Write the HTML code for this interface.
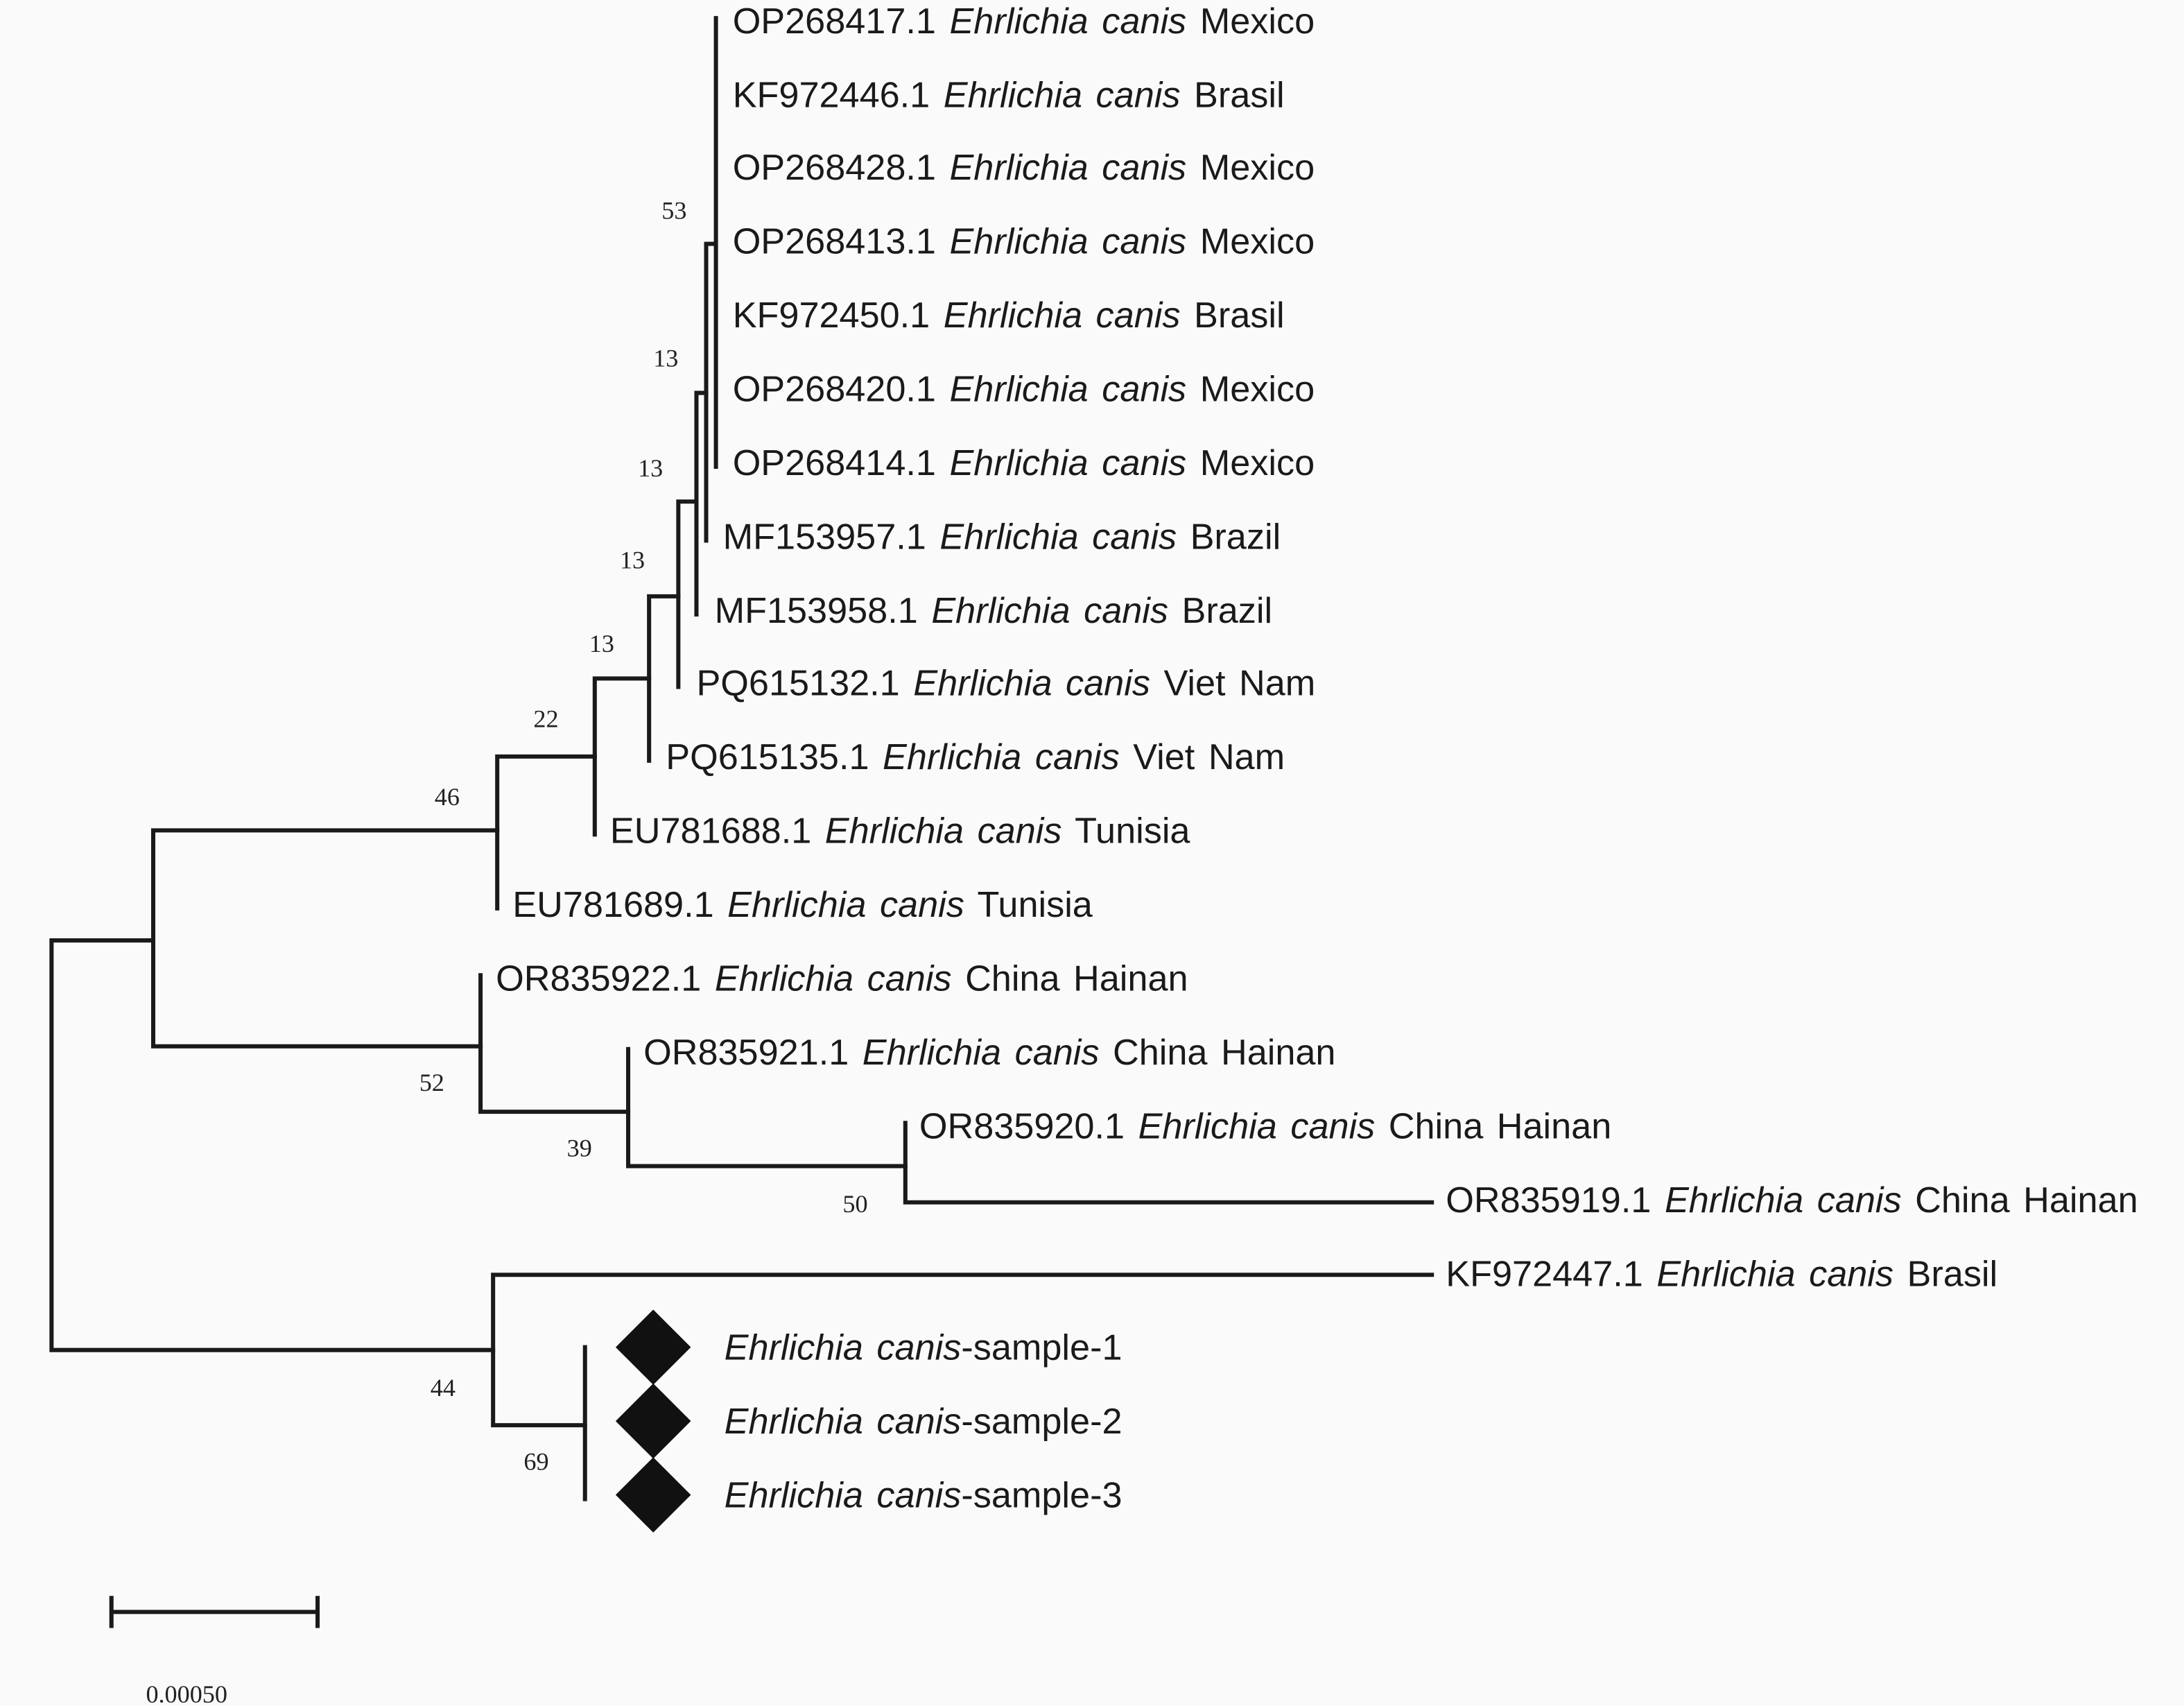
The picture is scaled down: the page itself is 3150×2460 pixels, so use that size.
<!DOCTYPE html>
<html><head><meta charset="utf-8"><style>
html,body{margin:0;padding:0;background:#fafafa;}
svg{display:block}
.t{font-family:"Liberation Sans",sans-serif;font-size:26px;fill:#1a1a1a;word-spacing:2.5px}
.b{font-family:"Liberation Serif",serif;font-size:18px;fill:#222;text-anchor:middle}
</style></head><body>
<svg width="3150" height="2460" viewBox="0 0 1568 1224.5" xmlns="http://www.w3.org/2000/svg">
<rect width="1568" height="1225" fill="#fafafa"/>
<g stroke="#1a1a1a" stroke-width="3" fill="none" stroke-linecap="square">
<path d="M37 675V969M37 675H110M37 969H354"/>
<path d="M110 596V751M110 596H357M110 751H345"/>
<path d="M357 543V652M357 543H427"/>
<path d="M427 487V599M427 487H466"/>
<path d="M466 428V546M466 428H487"/>
<path d="M487 360V493M487 360H500"/>
<path d="M500 282V441M500 282H507"/>
<path d="M507 175V388M507 175H513"/>
<path d="M514 13V335"/>
<path d="M345 700V798M345 798H451"/>
<path d="M451 753V837M451 837H650"/>
<path d="M650 806V863M650 863H1028"/>
<path d="M354 915V1023M354 915H1028M354 1023H420"/>
<path d="M420 967V1076"/>
<path d="M80 1157H228M80 1147V1167M228 1147V1167"/>
</g>
<g fill="#111">
<path d="M469 940L496 967L469 994L442 967Z"/>
<path d="M469 993L496 1020L469 1047L442 1020Z"/>
<path d="M469 1046L496 1073L469 1100L442 1073Z"/>
</g>
<g class="t">
<text x="526" y="24">OP268417.1 <tspan font-style="italic">Ehrlichia canis</tspan> Mexico</text>
<text x="526" y="77">KF972446.1 <tspan font-style="italic">Ehrlichia canis</tspan> Brasil</text>
<text x="526" y="129">OP268428.1 <tspan font-style="italic">Ehrlichia canis</tspan> Mexico</text>
<text x="526" y="182">OP268413.1 <tspan font-style="italic">Ehrlichia canis</tspan> Mexico</text>
<text x="526" y="235">KF972450.1 <tspan font-style="italic">Ehrlichia canis</tspan> Brasil</text>
<text x="526" y="288">OP268420.1 <tspan font-style="italic">Ehrlichia canis</tspan> Mexico</text>
<text x="526" y="341">OP268414.1 <tspan font-style="italic">Ehrlichia canis</tspan> Mexico</text>
<text x="519" y="394">MF153957.1 <tspan font-style="italic">Ehrlichia canis</tspan> Brazil</text>
<text x="513" y="447">MF153958.1 <tspan font-style="italic">Ehrlichia canis</tspan> Brazil</text>
<text x="500" y="499">PQ615132.1 <tspan font-style="italic">Ehrlichia canis</tspan> Viet Nam</text>
<text x="478" y="552">PQ615135.1 <tspan font-style="italic">Ehrlichia canis</tspan> Viet Nam</text>
<text x="438" y="605">EU781688.1 <tspan font-style="italic">Ehrlichia canis</tspan> Tunisia</text>
<text x="368" y="658">EU781689.1 <tspan font-style="italic">Ehrlichia canis</tspan> Tunisia</text>
<text x="356" y="711">OR835922.1 <tspan font-style="italic">Ehrlichia canis</tspan> China Hainan</text>
<text x="462" y="764">OR835921.1 <tspan font-style="italic">Ehrlichia canis</tspan> China Hainan</text>
<text x="660" y="817">OR835920.1 <tspan font-style="italic">Ehrlichia canis</tspan> China Hainan</text>
<text x="1038" y="870">OR835919.1 <tspan font-style="italic">Ehrlichia canis</tspan> China Hainan</text>
<text x="1038" y="923">KF972447.1 <tspan font-style="italic">Ehrlichia canis</tspan> Brasil</text>
<text x="520" y="976"><tspan font-style="italic">Ehrlichia canis</tspan>-sample-1</text>
<text x="520" y="1029"><tspan font-style="italic">Ehrlichia canis</tspan>-sample-2</text>
<text x="520" y="1082"><tspan font-style="italic">Ehrlichia canis</tspan>-sample-3</text>
</g>
<g class="b">
<text x="484" y="157">53</text>
<text x="478" y="263">13</text>
<text x="467" y="342">13</text>
<text x="454" y="408">13</text>
<text x="432" y="468">13</text>
<text x="392" y="522">22</text>
<text x="321" y="578">46</text>
<text x="310" y="783">52</text>
<text x="416" y="830">39</text>
<text x="614" y="870">50</text>
<text x="318" y="1002">44</text>
<text x="385" y="1055">69</text>
<text x="134" y="1222">0.00050</text>
</g>
</svg>
</body></html>
